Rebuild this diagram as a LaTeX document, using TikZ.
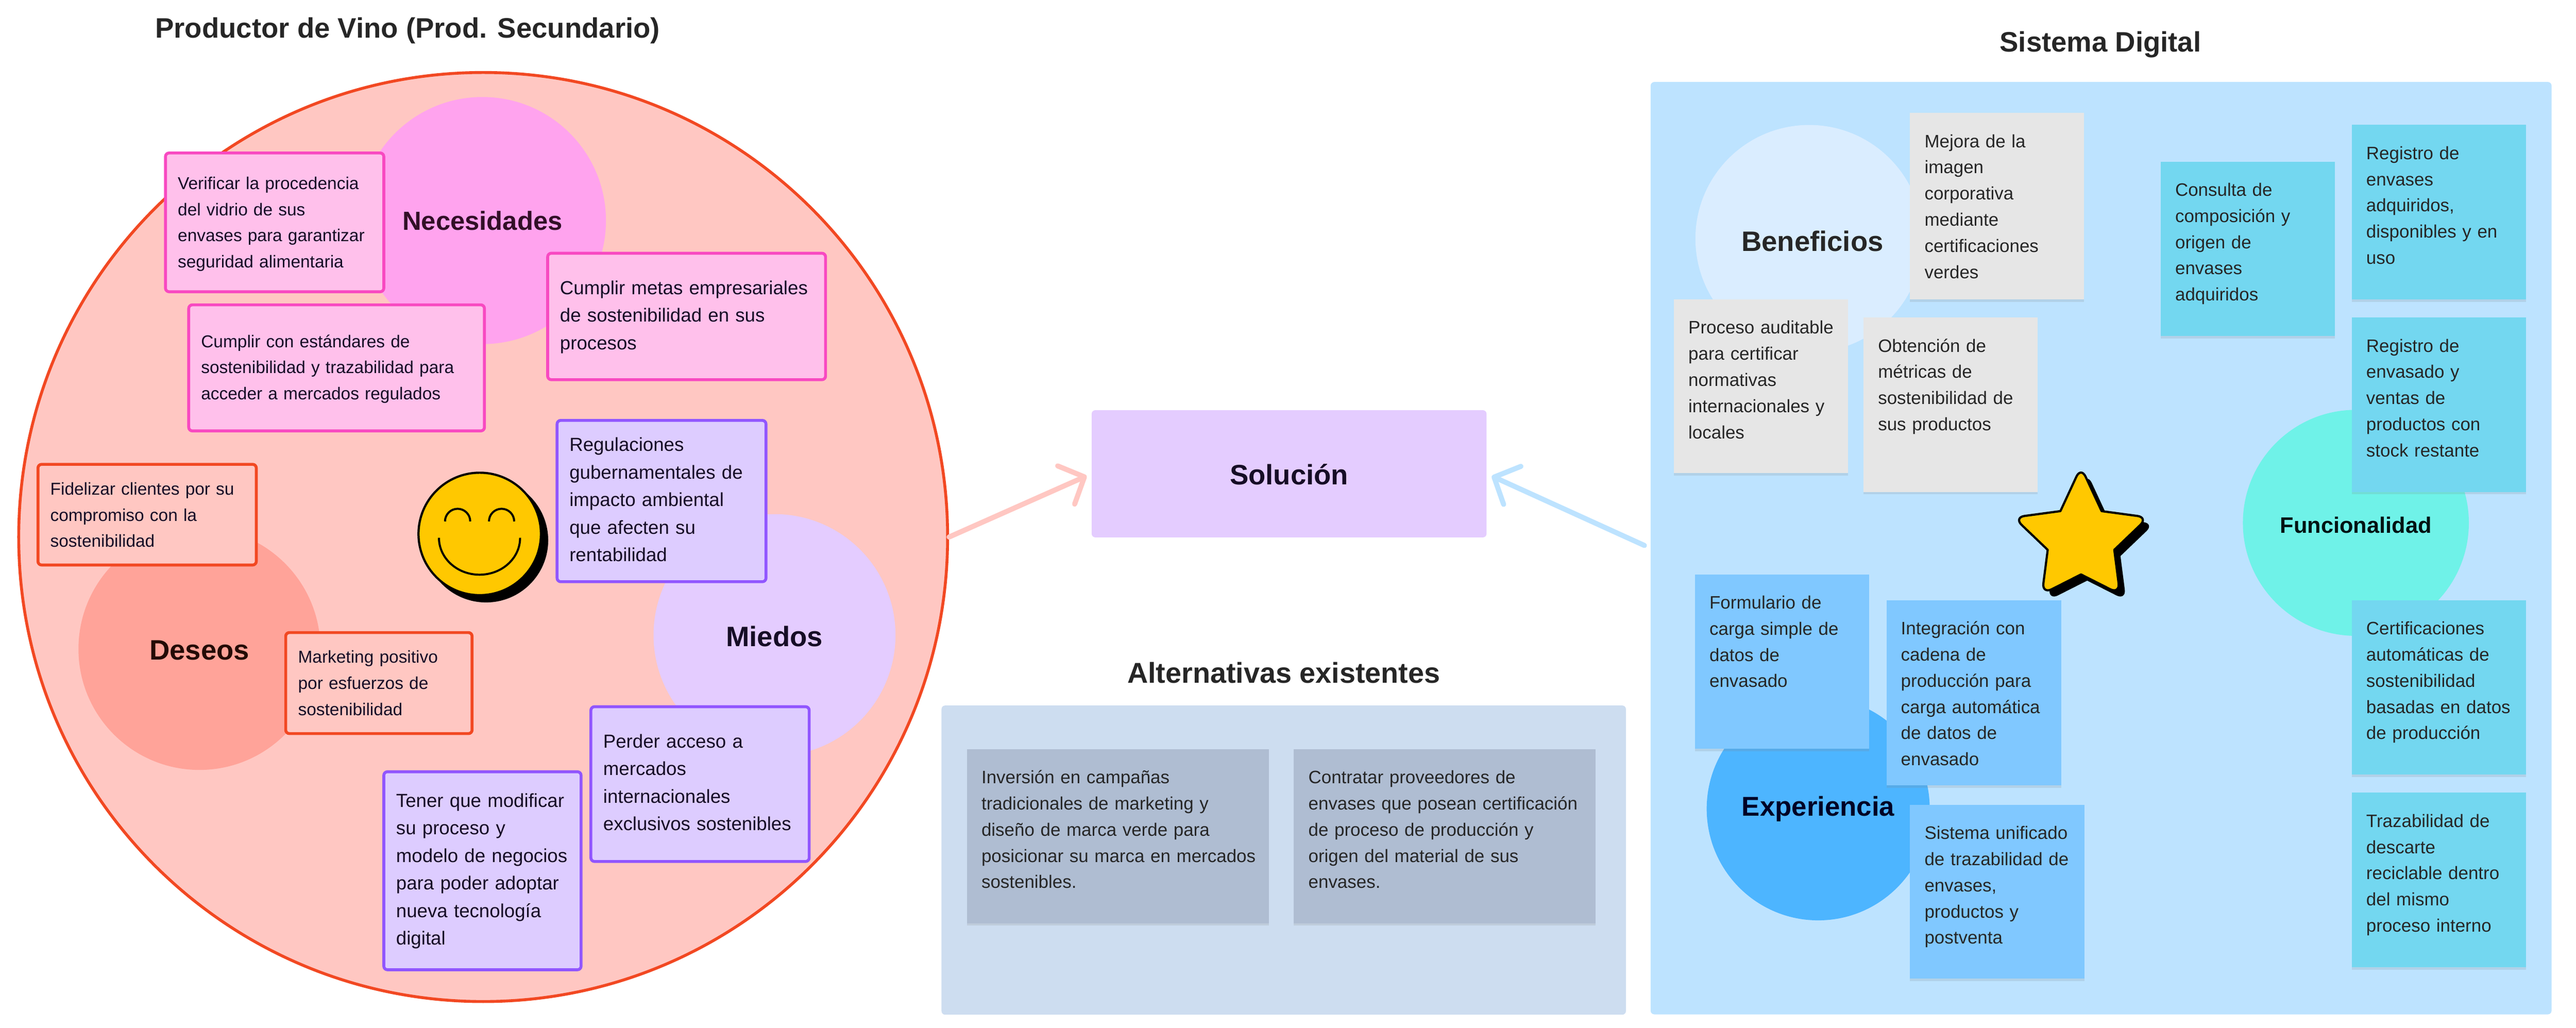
\documentclass[tikz,border=0pt]{standalone}
\usepackage{fontspec}
\setmainfont{Liberation Sans}
\usetikzlibrary{positioning,arrows.meta,shadows}

\definecolor{rojofondo}{HTML}{FFC7C2}
\definecolor{rojoborde}{HTML}{F24822}
\definecolor{rojocirculo}{HTML}{FFA399}
\definecolor{rosacirculo}{HTML}{FFA3EE}
\definecolor{rosacaja}{HTML}{FFC0EB}
\definecolor{rosaborde}{HTML}{F849C1}
\definecolor{violetacirculo}{HTML}{E4CCFF}
\definecolor{violetacaja}{HTML}{DDCCFF}
\definecolor{violetaborde}{HTML}{9156FF}
\definecolor{azulfondo}{HTML}{BDE3FF}
\definecolor{azulclaro}{HTML}{DAEDFF}
\definecolor{azulcirculo}{HTML}{4DB5FF}
\definecolor{azulnota}{HTML}{80C8FF}
\definecolor{turquesacirculo}{HTML}{6FF2E8}
\definecolor{turquesanota}{HTML}{73D7F0}
\definecolor{grisnota}{HTML}{E6E6E6}
\definecolor{altfondo}{HTML}{CDDDF0}
\definecolor{altnota}{HTML}{AFBDD2}
\definecolor{amarillo}{HTML}{FFC800}

\tikzset{
  medidas/.style n args={3}{text width=#1cm-0.68cm, text height=#3cm-0.1cm, text depth=#2cm-#3cm-0.1cm},
  caja/.style={anchor=north west, xshift=-0.045cm, draw, line width=0.08cm, rounded corners=0.1cm, inner xsep=0.34cm, inner ysep=0.1cm, align=left, text=black!85!violetaborde},
  cajachica/.style={caja, font=\fontsize{13.5}{20.5}\selectfont},
  cajagrande/.style={caja, font=\fontsize{14.8}{21.6}\selectfont},
  nota/.style={anchor=north west, inner xsep=0.4cm, inner ysep=0.1cm, align=left, text=black!85, font=\fontsize{14.1}{20.5}\selectfont, drop shadow={shadow xshift=0cm, shadow yshift=-0.07cm, opacity=0.18}},
  circulo/.style={circle, inner sep=0pt, text height=0.61cm, text depth=0cm, font=\fontsize{22}{26}\selectfont\bfseries},
  titulo/.style={font=\fontsize{22}{26}\selectfont\bfseries, text=black!85},
  flecha/.style={line width=0.14cm, line cap=round, line join=round, -{Straight Barb[length=0.55cm,width=1.15cm,round]}}
}

\newcommand{\estrella}{(57.85,-14.067) [rounded corners=0.3cm] -- (59.133,-14.24) [sharp corners] -- (58.2,-15.133) [rounded corners=0.3cm] -- (58.357,-16.353) [sharp corners] -- (57.283,-15.81) [rounded corners=0.3cm] -- (56.21,-16.353) [sharp corners] -- (56.367,-15.133) [rounded corners=0.3cm] -- (55.433,-14.24) [sharp corners] -- (56.717,-14.067) [rounded corners=0.3cm] -- (57.283,-12.847) [sharp corners]}

\begin{document}
\begin{tikzpicture}
\useasboundingbox (0,0) rectangle (70.91,-28.29);

% titulos
\node (tituloproductor) [titulo] at (11.22,-0.84) {Productor de Vino (Prod. Secundario)};
\node (titulosistema) [titulo] at (57.82,-1.22) {Sistema Digital};
\node (tituloalternativas) [titulo, font=\fontsize{22.5}{26}\selectfont\bfseries] at (35.34,-18.52) {Alternativas existentes};

% productor de vino
\node (productor) [circle, draw=rojoborde, fill=rojofondo, line width=0.08cm, minimum size=25.57cm, inner sep=0pt] at (13.30,-14.78) {};
\node (necesidades) [circulo, fill=rosacirculo, minimum size=6.8cm, text height=0.52cm, text=black!80!rosaborde, font=\fontsize{20.5}{24}\selectfont\bfseries] at (13.28,-6.07) {Necesidades};
\node (deseos) [circulo, fill=rojocirculo, minimum size=6.66cm, text=black!85!rojoborde] at (5.49,-17.86) {Deseos};
\node (miedos) [circulo, fill=violetacirculo, minimum size=6.66cm, text=black!85!violetaborde] at (21.32,-17.48) {Miedos};

\node (verificar) [cajachica, draw=rosaborde, fill=rosacaja, medidas={6.01}{3.82}{1.0}] at (4.56,-4.17) {Verificar la procedencia\\del vidrio de sus\\envases para garantizar\\seguridad alimentaria};
\node (estandares) [cajachica, draw=rosaborde, fill=rosacaja, medidas={8.14}{3.47}{1.17}] at (5.20,-8.35) {Cumplir con estándares de\\sostenibilidad y trazabilidad para\\acceder a mercados regulados};
\node (metas) [cajagrande, draw=rosaborde, fill=rosacaja, medidas={7.65}{3.48}{1.13}] at (15.08,-6.93) {Cumplir metas empresariales\\de sostenibilidad en sus\\procesos};
\node (regulaciones) [cajagrande, draw=violetaborde, fill=violetacaja, medidas={5.75}{4.44}{0.85}] at (15.34,-11.53) {Regulaciones\\gubernamentales de\\impacto ambiental\\que afecten su\\rentabilidad};
\node (fidelizar) [cajachica, draw=rojoborde, fill=rojofondo, medidas={6.01}{2.77}{0.84}] at (1.05,-12.74) {Fidelizar clientes por su\\compromiso con la\\sostenibilidad};
\node (marketing) [cajachica, draw=rojoborde, fill=rojofondo, medidas={5.13}{2.78}{0.84}] at (7.87,-17.37) {Marketing positivo\\por esfuerzos de\\sostenibilidad};
\node (perder) [cajagrande, draw=violetaborde, fill=violetacaja, medidas={6.01}{4.26}{1.13}] at (16.27,-19.41) {Perder acceso a\\mercados\\internacionales\\exclusivos sostenibles};
\node (tener) [cajagrande, draw=violetaborde, fill=violetacaja, medidas={5.43}{5.45}{0.97}] at (10.57,-21.20) {Tener que modificar\\su proceso y\\modelo de negocios\\para poder adoptar\\nueva tecnología\\digital};

% carita
\node (sombracarita) [circle, fill=black, minimum size=3.42cm, inner sep=0pt] at (13.38,-14.87) {};
\node (carita) [circle, draw=black, fill=amarillo, line width=0.06cm, minimum size=3.37cm, inner sep=0pt] at (13.205,-14.695) {};
\draw [line width=0.056cm] (12.25,-14.35) arc (180:0:0.347);
\draw [line width=0.056cm] (13.46,-14.35) arc (180:0:0.347);
\draw [line width=0.056cm] (12.083,-14.80) arc (180:360:1.117 and 1.017);

% solucion
\node (solucion) [fill=violetacirculo, rounded corners=0.1cm, minimum width=10.87cm, minimum height=3.5cm, text height=0.61cm, text depth=0cm, text=black!85!violetaborde, font=\fontsize{22}{26}\selectfont\bfseries] at (35.485,-13.04) {Solución};

% alternativas
\node (alternativas) [anchor=north west, fill=altfondo, rounded corners=0.1cm, minimum width=18.84cm, minimum height=8.51cm] at (25.91,-19.41) {};
\node (campanas) [nota, fill=altnota, medidas={8.31}{4.78}{0.94}, text width=7.51cm] at (26.61,-20.62) {Inversión en campañas\\tradicionales de marketing y\\diseño de marca verde para\\\mbox{posicionar su marca en mercados}\\sostenibles.};
\node (proveedores) [nota, fill=altnota, medidas={8.31}{4.78}{0.94}, text width=7.51cm] at (35.61,-20.62) {Contratar proveedores de\\envases que posean certificación\\de proceso de producción y\\origen del material de sus\\envases.};

% sistema digital
\node (sistema) [anchor=north west, fill=azulfondo, rounded corners=0.1cm, minimum width=24.80cm, minimum height=25.66cm] at (45.43,-2.25) {};
\node (beneficios) [circulo, fill=azulclaro, minimum size=6.26cm, text height=0.7cm, text=black!85] at (49.80,-6.57) {\hspace*{0.18cm}Beneficios};
\node (funcionalidad) [circulo, fill=turquesacirculo, minimum size=6.22cm, text height=0.55cm, text=black!85!teal, font=\fontsize{17.5}{22}\selectfont\bfseries] at (64.85,-14.39) {Funcionalidad};
\node (experiencia) [circulo, fill=azulcirculo, minimum size=6.14cm, text height=0.4cm, text=black!85!blue, font=\fontsize{21.3}{26}\selectfont\bfseries] at (50.05,-22.26) {Experiencia};

\fill [black, shift={(0.17,-0.17)}, line join=round] \estrella -- cycle;
\draw [fill=amarillo, line width=0.06cm, line join=round] \estrella -- cycle;

\node (mejora) [nota, fill=grisnota, medidas={4.80}{5.13}{0.95}, text width=3.99cm] at (52.57,-3.10) {Mejora de la\\imagen\\corporativa\\mediante\\certificaciones\\verdes};
\node (proceso) [nota, fill=grisnota, medidas={4.79}{4.78}{0.95}, text width=3.99cm] at (46.07,-8.23) {\mbox{Proceso auditable}\\para certificar\\normativas\\internacionales y\\locales};
\node (metricas) [nota, fill=grisnota, medidas={4.79}{4.80}{0.95}, text width=3.99cm] at (51.29,-8.73) {Obtención de\\métricas de\\sostenibilidad de\\sus productos};
\node (consulta) [nota, fill=turquesanota, medidas={4.79}{4.80}{0.95}, text width=3.99cm] at (59.47,-4.44) {Consulta de\\composición y\\origen de\\envases\\adquiridos};
\node (registroenvases) [nota, fill=turquesanota, medidas={4.79}{4.80}{0.95}, text width=3.99cm] at (64.73,-3.43) {Registro de\\envases\\adquiridos,\\disponibles y en\\uso};
\node (registroenvasado) [nota, fill=turquesanota, medidas={4.79}{4.80}{0.95}, text width=3.99cm] at (64.73,-8.73) {Registro de\\envasado y\\ventas de\\productos con\\stock restante};
\node (certificaciones) [nota, fill=turquesanota, medidas={4.79}{4.80}{0.95}, text width=3.99cm] at (64.73,-16.51) {Certificaciones\\automáticas de\\sostenibilidad\\basadas en datos\\de producción};
\node (trazabilidad) [nota, fill=turquesanota, medidas={4.79}{4.80}{0.95}, text width=3.99cm] at (64.73,-21.81) {Trazabilidad de\\descarte\\reciclable dentro\\del mismo\\proceso interno};
\node (formulario) [nota, fill=azulnota, medidas={4.79}{4.80}{0.95}, text width=3.99cm] at (46.65,-15.80) {Formulario de\\carga simple de\\datos de\\envasado};
\node (integracion) [nota, fill=azulnota, medidas={4.81}{5.10}{0.95}, text width=4.01cm] at (51.92,-16.51) {Integración con\\cadena de\\producción para\\carga automática\\de datos de\\envasado};
\node (unificado) [nota, fill=azulnota, medidas={4.80}{4.79}{0.95}, text width=4.00cm] at (52.57,-22.14) {Sistema unificado\\de trazabilidad de\\envases,\\productos y\\postventa};

% flechas
\draw [flecha, draw=rojofondo, shorten >=0.14cm] (productor.east) -- (solucion.west);
\draw [flecha, draw=azulfondo, shorten >=0.15cm, shorten <=0.18cm] (sistema.west) -- (solucion.east);

\end{tikzpicture}
\end{document}
